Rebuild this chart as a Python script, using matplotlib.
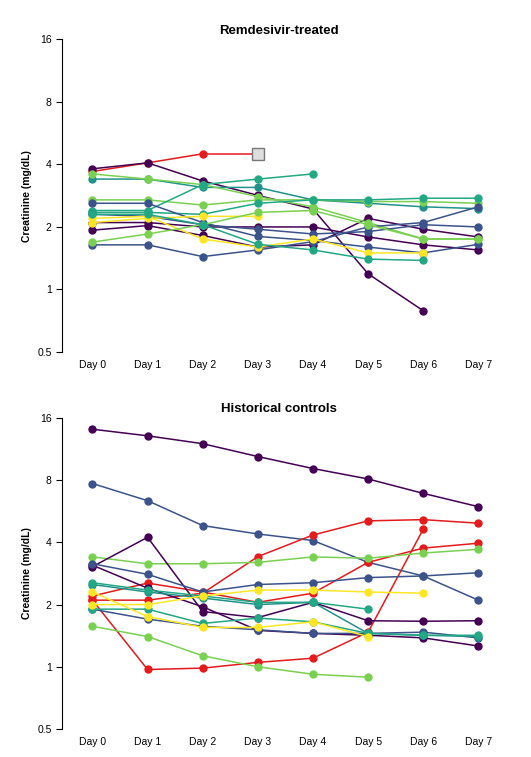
import matplotlib
matplotlib.use("Agg")
import matplotlib.pyplot as plt
import numpy as np

plt.rcParams['font.family'] = ['Liberation Sans', 'DejaVu Sans']

days = ["Day 0", "Day 1", "Day 2", "Day 3", "Day 4", "Day 5", "Day 6", "Day 7"]
yticks = [0.5, 1, 2, 4, 8, 16]

P, N, T, G, LG, Y, R = "#440154", "#3b528b", "#21918c", "#22a884", "#7ad151", "#fde725", "#e41a1c"

remdesivir = [
    (R,  [3.7, 4.07, 4.5]),
    (P,  [3.81, 4.07, 3.33, 2.84, 2.44, 1.19, 0.79]),
    (P,  [1.93, 2.03, 1.82, 1.6, 1.64, 2.2, 1.95, 1.79]),
    (P,  [2.1, 2.1, 2.0, 2.0, 2.0, 1.79, 1.64, 1.55]),
    (T,  [3.4, 3.4, 3.1, 3.1, 2.7, 2.6, 2.5, 2.45]),
    (LG, [3.6, 3.4, 3.2, 2.8, 2.5, 2.1, 1.75, 1.75]),
    (LG, [2.7, 2.7, 2.55, 2.7, 2.7, 2.65, 2.65, 2.6]),
    (G,  [2.4, 2.4, 3.2, 3.4, 3.6]),
    (G,  [2.35, 2.35, 2.3, 2.6, 2.7, 2.7, 2.75, 2.75]),
    (N,  [2.6, 2.6, 2.1, 1.8, 1.72, 1.6, 1.5, 1.65]),
    (N,  [1.64, 1.64, 1.44, 1.55, 1.7, 2.0, 2.1, 2.5]),
    (N,  [2.3, 2.25, 2.05, 1.95, 1.85, 1.9, 2.05, 2.0]),
    (Y,  [2.2, 2.25, 1.75, 1.6, 1.75, 1.5, 1.5]),
    (Y,  [2.1, 2.2, 2.25, 2.25]),
    (LG, [1.69, 1.85, 2.05, 2.35, 2.4, 2.05, 1.75, 1.75]),
    (G,  [2.3, 2.3, 2.05, 1.65, 1.55, 1.4, 1.38]),
]
# ventilator event (Day 3) for red patient
vent_day, vent_value = 3, 4.5

controls = [
    (P,  [14.1, 13.1, 12.0, 10.4, 9.1, 8.1, 6.9, 5.95]),
    (N,  [7.7, 6.36, 4.82, 4.39, 4.08, 3.2, 2.75, 2.1]),
    (R,  [2.1, 2.1, 2.27, 3.41, 4.34, 5.08, 5.15, 4.95]),
    (R,  [2.2, 2.54, 2.3, 2.05, 2.27, 3.2, 3.75, 3.96]),
    (R,  [2.1, 0.97, 0.985, 1.05, 1.10, 1.47, 4.63]),
    (LG, [3.4, 3.15, 3.15, 3.2, 3.4, 3.35, 3.55, 3.7]),
    (LG, [1.57, 1.40, 1.13, 1.0, 0.92, 0.89]),
    (P,  [3.05, 4.23, 1.85, 1.73, 2.05, 1.67, 1.66, 1.67]),
    (P,  [3.1, 2.4, 1.95, 1.5, 1.45, 1.42, 1.38, 1.26]),
    (N,  [3.15, 2.8, 2.3, 2.5, 2.55, 2.7, 2.75, 2.85]),
    (N,  [1.9, 1.7, 1.57, 1.51, 1.45, 1.45, 1.47, 1.38]),
    (T,  [2.5, 2.3, 2.15, 2.0, 2.05, 1.45, 1.42, 1.4]),
    (G,  [2.55, 2.35, 2.2, 2.05, 2.05, 1.9]),
    (G,  [1.9, 1.9, 1.62, 1.72, 1.65, 1.45, 1.42, 1.42]),
    (Y,  [2.3, 1.75, 1.55, 1.55, 1.65, 1.4]),
    (Y,  [2.0, 2.0, 2.2, 2.35, 2.35, 2.3, 2.27]),
]

fig = plt.figure(figsize=(5.31, 7.57), dpi=100)
ax1 = fig.add_axes([0.117, 0.535, 0.815, 0.413])
ax2 = fig.add_axes([0.117, 0.037, 0.815, 0.411])

def style(ax, title):
    ax.set_yscale("log", base=2)
    ax.set_ylim(0.5, 16)
    ax.set_yticks(yticks)
    ax.set_yticklabels([("%g" % v) for v in yticks], fontsize=7.5)
    ax.minorticks_off()
    ax.set_xlim(-0.55, 7.3)
    ax.set_xticks(range(len(days)))
    ax.set_xticklabels(days, fontsize=7.5)
    ax.tick_params(axis="x", length=0, pad=6)
    ax.tick_params(axis="y", length=4, width=0.8)
    for s in ["top", "right", "bottom"]:
        ax.spines[s].set_visible(False)
    ax.spines["left"].set_linewidth(0.8)
    ax.set_ylabel("Creatinine (mg/dL)", fontsize=7.5, fontweight="bold")
    ax.set_title(title, fontsize=9.5, fontweight="bold", pad=4)

for ax, data in ((ax1, remdesivir), (ax2, controls)):
    for c, vals in data:
        ax.plot(range(len(vals)), vals, color=c, lw=1.1, marker="o", ms=5, zorder=2)

ax1.plot([2, vent_day], [4.5, vent_value], color=R, lw=1.1)
ax1.plot(vent_day, vent_value, marker="s", ms=8, mfc="#dddddd", mec="#777777", mew=1, zorder=3)

style(ax1, "Remdesivir-treated")
style(ax2, "Historical controls")

fig.savefig("out.png", dpi=100)
